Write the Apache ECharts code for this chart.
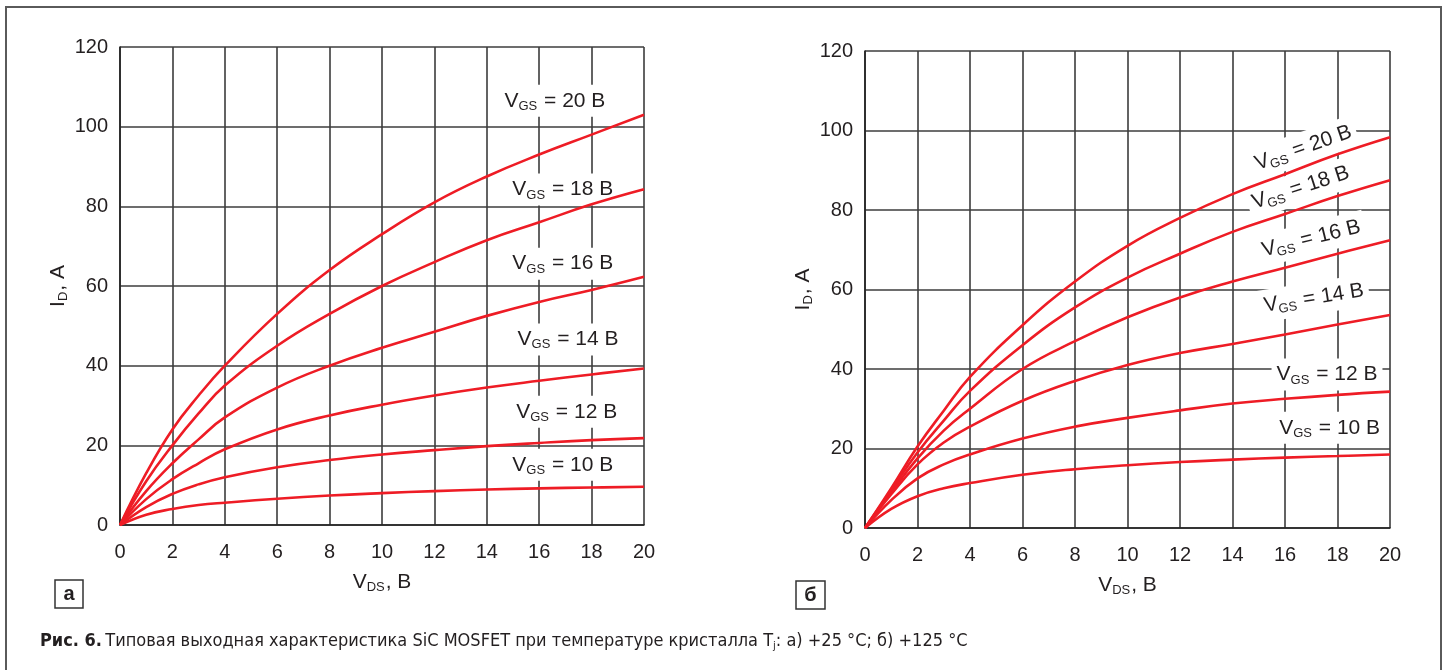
<!DOCTYPE html>
<html>
<head>
<meta charset="utf-8">
<title>SiC MOSFET output characteristic</title>
<script src="https://cdn.jsdelivr.net/npm/echarts@6/dist/echarts.min.js"></script>
<style>
  html, body { margin: 0; padding: 0; background: #fff; }
  #chart { width: 1444px; height: 670px; }
</style>
</head>
<body>
<div id="chart"></div>
<script>
// V_DS points, В
var vds = [0, 1, 2, 3, 4, 6, 8, 10, 12, 14, 16, 18, 20];
var vgsNames = ['20', '18', '16', '14', '12', '10'];

// a) Tj = +25 °C, I_D in A
var a20 = [0, 13, 24, 32.5, 40, 53, 64, 73, 81, 87.5, 93, 98, 103];
var a18 = [0, 11, 20, 28, 35, 45, 53, 60, 66, 71.5, 76, 80.5, 84.3];
var a16 = [0, 8.5, 15.5, 21.5, 27, 34.5, 40, 44.5, 48.5, 52.5, 56, 59, 62.3];
var a14 = [0, 6.5, 11.5, 15.5, 19, 24, 27.5, 30.2, 32.5, 34.5, 36.2, 37.8, 39.3];
var a12 = [0, 4.5, 7.8, 10.2, 12, 14.5, 16.3, 17.7, 18.8, 19.8, 20.6, 21.3, 21.8];
var a10 = [0, 2.6, 4.0, 5.0, 5.6, 6.6, 7.4, 8.0, 8.5, 8.9, 9.2, 9.4, 9.6];

// б) Tj = +125 °C
var b20 = [0, 10, 20.5, 29.5, 38, 51, 62, 71, 78, 84, 89, 94, 98.3];
var b18 = [0, 9.5, 19, 27, 34.5, 46, 55.5, 63, 69, 74.5, 79, 83.5, 87.5];
var b16 = [0, 9, 17.5, 24.5, 30, 40, 47, 53, 58, 62, 65.5, 69, 72.4];
var b14 = [0, 8.5, 16, 21.5, 25.5, 32, 37, 41, 44, 46.3, 48.7, 51.2, 53.6];
var b12 = [0, 7, 12.5, 16, 18.5, 22.5, 25.5, 27.7, 29.6, 31.3, 32.5, 33.5, 34.3];
var b10 = [0, 4.8, 8, 10, 11.3, 13.4, 14.8, 15.8, 16.6, 17.2, 17.7, 18.1, 18.5];

// where the VGS captions sit (data coords) and their tilt
var labA = [[16.6, 106.5], [16.9, 84.2], [16.9, 65.6], [17.1, 46.6], [17.05, 28.4], [16.9, 15.1]];
var labB = [[16.7, 95.6], [16.6, 85.6], [17.0, 72.8], [17.1, 57.8], [17.6, 38.6], [17.7, 25.2]];
var rotB = [19, 18, 14, 9, 0, 0];

var RED = '#ee1c25', INK = '#231f20', GRIDC = '#3c3c3c';
var FONT = 'Liberation Sans, Arial, sans-serif';
var NARROW = 'DejaVu Sans Condensed, sans-serif';

var rich = {
  v: { fontSize: 21, color: INK, fontFamily: FONT, lineHeight: 26, verticalAlign: 'middle' },
  s: { fontSize: 13, color: INK, fontFamily: FONT, lineHeight: 13, verticalAlign: 'bottom', padding: [0, 1, 1, 0] }
};

function pairs(ys) {
  return ys.map(function (y, i) { return [vds[i], y]; });
}

function curves(sets, idx) {
  return sets.map(function (ys) {
    return {
      type: 'line', xAxisIndex: idx, yAxisIndex: idx, data: pairs(ys),
      smooth: 0.45, showSymbol: false, symbol: 'none',
      lineStyle: { color: RED, width: 2.6 }, z: 3, silent: true
    };
  });
}

function captions(pos, rot, idx) {
  return {
    type: 'scatter', xAxisIndex: idx, yAxisIndex: idx, symbolSize: 0, z: 2, silent: true,
    itemStyle: { opacity: 1 },
    data: pos.map(function (p, i) {
      return {
        value: p,
        label: {
          show: true, position: 'inside', rotate: rot ? rot[i] : 0, opacity: 1, color: INK,
          formatter: '{v|V}{s|GS}{v| = ' + vgsNames[i] + ' В}',
          backgroundColor: '#fff', padding: [3, 5, 3, 5], rich: rich
        }
      };
    })
  };
}

function xAx(idx) {
  return {
    gridIndex: idx, type: 'value', min: 0, max: 20, interval: 2,
    name: '{v|V}{s|DS}{v|, В}', nameLocation: 'middle', nameGap: 44,
    nameTextStyle: { rich: rich },
    axisLine: { lineStyle: { color: '#222', width: 1.6 } },
    axisTick: { show: false },
    axisLabel: { color: INK, fontSize: 20, fontFamily: FONT, margin: 17 },
    splitLine: { show: true, lineStyle: { color: GRIDC, width: 1.6 } }
  };
}

function yAx(idx) {
  return {
    gridIndex: idx, type: 'value', min: 0, max: 120, interval: 20,
    name: '{v|I}{s|D}{v|, A}', nameLocation: 'middle', nameGap: 42, nameRotate: 90,
    nameTextStyle: { rich: rich },
    axisLine: { lineStyle: { color: '#222', width: 1.6 } },
    axisTick: { show: false },
    axisLabel: { color: INK, fontSize: 20, fontFamily: FONT, margin: 12 },
    splitLine: { show: true, lineStyle: { color: GRIDC, width: 1.6 } }
  };
}

var chart = echarts.init(document.getElementById('chart'), null, { renderer: 'canvas' });

var series = []
  .concat(curves([a20, a18, a16, a14, a12, a10], 0))
  .concat(curves([b20, b18, b16, b14, b12, b10], 1));
series.push(captions(labA, null, 0));
series.push(captions(labB, rotB, 1));

var option = {
  animation: false,
  backgroundColor: '#fff',
  grid: [
    { left: 120, top: 47, width: 524, height: 478 },
    { left: 865, top: 51, width: 525, height: 477 }
  ],
  xAxis: [xAx(0), xAx(1)],
  yAxis: [yAx(0), yAx(1)],
  series: series,
  graphic: [
    { type: 'rect', shape: { x: 6, y: 7, width: 1435, height: 700 },
      style: { fill: 'none', stroke: '#5a5a5a', lineWidth: 2 }, silent: true },
    { type: 'rect', shape: { x: 55, y: 580, width: 28, height: 28 },
      style: { fill: '#fff', stroke: '#333', lineWidth: 1.5 } },
    { type: 'text', x: 69, y: 594,
      style: { text: 'а', fill: INK, font: 'bold 20px ' + FONT, align: 'center', verticalAlign: 'middle' } },
    { type: 'rect', shape: { x: 796, y: 581, width: 29, height: 28 },
      style: { fill: '#fff', stroke: '#333', lineWidth: 1.5 } },
    { type: 'text', x: 810.5, y: 595,
      style: { text: 'б', fill: INK, font: 'bold 20px ' + FONT, align: 'center', verticalAlign: 'middle' } },
    { type: 'text', x: 40, y: 641,
      style: {
        text: '{b|Рис. 6.} {n|Типовая выходная характеристика SiC MOSFET при температуре кристалла T}{j|j}{n|: а) +25 °C; б) +125 °C}',
        verticalAlign: 'middle',
        rich: {
          b: { fontSize: 18, fontWeight: 'bold', fill: INK, fontFamily: NARROW, lineHeight: 22 },
          n: { fontSize: 18, fill: INK, fontFamily: NARROW, lineHeight: 22 },
          j: { fontSize: 11, fill: INK, fontFamily: NARROW, lineHeight: 11, verticalAlign: 'bottom' }
        }
      } }
  ]
};

chart.setOption(option);
</script>
</body>
</html>
